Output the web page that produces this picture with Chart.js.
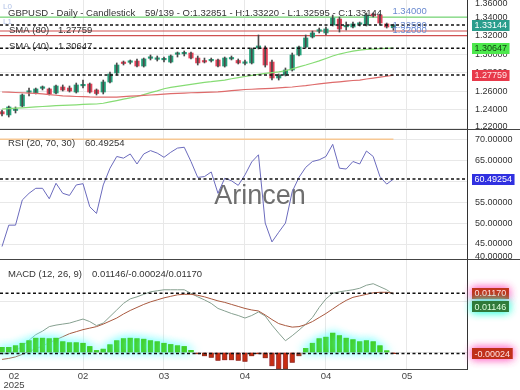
<!DOCTYPE html>
<html lang="en">
<head>
<meta charset="UTF-8">
<title>GBPUSD Daily</title>
<script src="https://cdn.jsdelivr.net/npm/chart.js@4"></script>
<style>
  html, body { margin: 0; padding: 0; background: #fff; }
  #wrap { position: relative; width: 520px; height: 390px; overflow: hidden; }
  canvas { position: absolute; left: 0; }
</style>
</head>
<body>
<div id="wrap">
  <canvas id="price" width="520" height="130" style="top:0"></canvas>
  <canvas id="rsi" width="520" height="130" style="top:130px"></canvas>
  <canvas id="macd" width="520" height="130" style="top:260px"></canvas>
</div>
<script>
const FONT = '"Liberation Sans", Arial, Helvetica, sans-serif';

// ---- data ----
const OPEN = [1.2381,1.2346,1.2394,1.2442,1.2590,1.2582,1.2633,1.2626,1.2582,1.2647,
  1.2636,1.2593,1.2660,1.2679,1.2615,1.2593,1.2701,1.2798,1.2911,1.2913,
  1.2927,1.2873,1.2956,1.2945,1.2940,1.2916,1.2999,1.3004,1.3013,1.2959,
  1.2927,1.2929,1.2938,1.2873,1.2949,1.2933,1.2902,1.2906,1.3067,1.3067,
  1.2916,1.2744,1.2776,1.2830,1.2992,1.3078,1.3186,1.3248,1.3229,1.3315,
  1.3379,1.3295,1.3293,1.3322,1.3315,1.3433,1.3422,1.3326,1.32851];
const HIGH = [1.2399,1.2442,1.2432,1.2572,1.2636,1.2636,1.2658,1.2636,1.2669,1.2669,
  1.2658,1.2690,1.2722,1.2690,1.2626,1.2722,1.2809,1.2906,1.2927,1.2938,
  1.2949,1.2959,1.2992,1.2981,1.2970,1.2992,1.3024,1.3035,1.3024,1.2981,
  1.2959,1.2959,1.2949,1.2970,1.2981,1.2949,1.2938,1.3067,1.3207,1.3089,
  1.2938,1.2787,1.2852,1.3013,1.3089,1.3207,1.3250,1.3282,1.3293,1.3422,
  1.3401,1.3347,1.3347,1.3347,1.3444,1.3444,1.3433,1.3336,1.33220];
const LOW = [1.2335,1.2324,1.2367,1.2432,1.2550,1.2572,1.2615,1.2561,1.2572,1.2604,
  1.2593,1.2582,1.2636,1.2582,1.2561,1.2572,1.2690,1.2776,1.2884,1.2895,
  1.2862,1.2862,1.2938,1.2927,1.2916,1.2906,1.2970,1.2981,1.2949,1.2884,
  1.2906,1.2916,1.2862,1.2862,1.2938,1.2895,1.2884,1.2895,1.3056,1.2862,
  1.2722,1.2722,1.2766,1.2819,1.2981,1.3067,1.3175,1.3229,1.3207,1.3304,
  1.3239,1.3261,1.3282,1.3304,1.3304,1.3401,1.3315,1.3282,1.32595];
const CLOSE = [1.2357,1.2432,1.2402,1.2561,1.2595,1.2626,1.2638,1.2572,1.2658,1.2615,
  1.2604,1.2669,1.2666,1.2593,1.2577,1.2701,1.2787,1.2884,1.2900,1.2918,
  1.2873,1.2949,1.2962,1.2951,1.2945,1.2981,1.3004,1.3010,1.2959,1.2906,
  1.2916,1.2935,1.2873,1.2959,1.2954,1.2906,1.2908,1.3056,1.3089,1.2884,
  1.2744,1.2776,1.2830,1.2992,1.3078,1.3175,1.3229,1.3253,1.3272,1.3390,
  1.3272,1.3301,1.3326,1.3328,1.3422,1.3412,1.3336,1.3293,1.33144];
const SMA40 = [1.2410,1.2415,1.2419,1.2423,1.2428,1.2432,1.2437,1.2442,1.2446,1.2449,
  1.2452,1.2455,1.2459,1.2462,1.2464,1.2472,1.2486,1.2501,1.2516,1.2529,
  1.2545,1.2565,1.2586,1.2606,1.2628,1.2643,1.2654,1.2664,1.2675,1.2687,
  1.2696,1.2704,1.2714,1.2722,1.2736,1.2748,1.2760,1.2772,1.2784,1.2794,
  1.2802,1.2809,1.2822,1.2843,1.2864,1.2884,1.2906,1.2928,1.2954,1.2981,
  1.3002,1.3019,1.3033,1.3044,1.3052,1.3056,1.3060,1.3063,1.30647];
const SMA80 = [1.2593,1.2591,1.2588,1.2585,1.2582,1.2579,1.2572,1.2565,1.2558,1.2551,
  1.2548,1.2545,1.2543,1.2540,1.2539,1.2539,1.2539,1.2539,1.2544,1.2548,
  1.2552,1.2557,1.2561,1.2565,1.2570,1.2575,1.2579,1.2582,1.2585,1.2587,
  1.2589,1.2591,1.2594,1.2601,1.2607,1.2614,1.2620,1.2623,1.2626,1.2629,
  1.2633,1.2637,1.2642,1.2647,1.2655,1.2662,1.2671,1.2680,1.2689,1.2696,
  1.2703,1.2710,1.2717,1.2722,1.2733,1.2743,1.2754,1.2763,1.27759];
const RSI = [44.4,49.5,49.5,55.5,57.1,58.3,58.3,55.8,59.5,57.1,
  56.6,59.1,59.4,53.9,52.3,59.1,63.1,65.9,65.5,66.5,
  64.1,66.5,67.3,66.7,65.7,66.9,67.9,68.1,64.7,60.9,
  61.1,62.2,57.1,60.7,60.1,59.0,61.5,64.6,66.3,50.0,
  45.5,47.8,50.0,57.5,60.9,63.3,64.7,65.1,65.9,68.8,
  63.1,62.9,64.7,64.1,67.2,65.9,61.1,59.3,60.49254];
const MACD = [-0.0003,-0.0002,0.0003,0.0012,0.0024,0.0035,0.0042,0.0051,0.0054,0.0056,
  0.0058,0.0062,0.0066,0.0061,0.0053,0.0058,0.0071,0.0084,0.0097,0.0106,
  0.0110,0.0115,0.0120,0.0122,0.0124,0.0124,0.0124,0.0124,0.0117,0.0110,
  0.0104,0.0097,0.0087,0.0082,0.0077,0.0073,0.0068,0.0073,0.0080,0.0072,
  0.0054,0.0038,0.0023,0.0033,0.0044,0.0056,0.0069,0.0089,0.0106,0.0117,
  0.0120,0.0122,0.0124,0.0127,0.0133,0.0136,0.0130,0.0124,0.01146];
const SIGNAL = [-0.0014,-0.0012,-0.0009,-0.0004,0.0002,0.0007,0.0013,0.0019,0.0025,0.0031,
  0.0037,0.0041,0.0045,0.0048,0.0051,0.0056,0.0062,0.0068,0.0076,0.0083,
  0.0089,0.0095,0.0100,0.0104,0.0108,0.0111,0.0114,0.0115,0.0115,0.0113,
  0.0110,0.0106,0.0102,0.0099,0.0095,0.0091,0.0087,0.0084,0.0082,0.0074,
  0.0065,0.0057,0.0053,0.0050,0.0051,0.0055,0.0061,0.0069,0.0077,0.0086,
  0.0095,0.0103,0.0109,0.0112,0.0115,0.0118,0.0119,0.0119,0.01170];
const HIST = [0.0010,0.0010,0.0013,0.0018,0.0023,0.0028,0.0028,0.0027,0.0028,0.0021,
  0.0019,0.0019,0.0018,0.00115,0.00036,0.00063,0.0015,0.0023,0.0027,0.0028,
  0.0027,0.0026,0.0023,0.0021,0.0018,0.00155,0.0013,0.00115,0.0004,-0.0003,
  -0.0007,-0.0010,-0.0016,-0.0015,-0.0015,-0.0016,-0.0018,-0.0007,-0.0003,-0.0011,
  -0.0027,-0.0033,-0.0033,-0.0020,-0.0007,0.0008,0.0018,0.0027,0.0030,0.0038,
  0.0033,0.0028,0.0025,0.0021,0.0023,0.0021,0.0013,0.0003,-0.00024];

const PRICE_TICKS = [1.22, 1.24, 1.26, 1.28, 1.30, 1.32, 1.34, 1.36];
const RSI_TICKS = [40, 45, 50, 55, 60, 65, 70];
const MACD_TICKS = [0, 0.01];
const X_TICK_IDX = [0, 12, 24, 36, 48, 60];
const X_TICK_LABELS = ['02', '02', '03', '04', '04', '05'];
const YEAR_LABEL = '2025';
const RES_LEVELS = [1.34];
const SUP_LEVELS = [1.325, 1.32];
const RSI_OVERBOUGHT = 70;
const TOTAL_BARS = 139;

const N = CLOSE.length, LAST = N - 1;
const X_MIN = -0.3, X_MAX = 68.9;

const C = {
  up: '#26a37c', down: '#e5435a', wick: '#4a4a4a',
  sma40: '#86dc74', sma80: '#de6b6b',
  res: '#78d878', sup: '#cf4f4f', lvlText: '#6a8ad0',
  rsi: '#6b6bbd', ob: '#f7c894',
  macd: '#86a090', signal: '#a9593f',
  histUp: '#3fcf22', histDn: '#c82c12',
  grid: '#e8e8e8', axis: '#333', text: '#333'
};

Chart.defaults.font.family = FONT;

const pts = arr => arr.map((v, i) => ({ x: i, y: v }));

function xAxis() {
  return {
    type: 'linear', min: X_MIN, max: X_MAX, offset: false,
    afterBuildTicks: s => { s.ticks = X_TICK_IDX.slice(1).map(v => ({ value: v })); },
    afterFit: s => { s.height = 0; },
    ticks: { display: false },
    grid: { color: C.grid, drawTicks: false, offset: false },
    border: { display: false }
  };
}
function yAxis(min, max, ticks) {
  return {
    type: 'linear', position: 'right', min, max,
    afterBuildTicks: s => { s.ticks = ticks.map(v => ({ value: v })); },
    afterFit: s => { s.width = 53; },
    ticks: { display: false },
    grid: { color: C.grid, drawTicks: false },
    border: { color: C.axis, width: 1 }
  };
}
function options(min, max, ticks, padBottom) {
  return {
    responsive: false, animation: false, events: [], devicePixelRatio: 1,
    layout: { padding: { left: 0, right: 0, top: 0, bottom: padBottom } },
    plugins: { legend: { display: false }, tooltip: { enabled: false } },
    scales: { x: xAxis(), y: yAxis(min, max, ticks) }
  };
}

// ---- drawing helpers ----
function txt(ctx, s, x, y, color, size, align) {
  ctx.save();
  ctx.font = (size || 9.5) + 'px ' + FONT;
  ctx.fillStyle = color || C.text;
  ctx.textAlign = align || 'left';
  ctx.textBaseline = 'alphabetic';
  ctx.fillText(s, x, y);
  ctx.restore();
}
function hLine(chart, v, color, width, dash) {
  const { ctx, chartArea: a } = chart;
  const y = chart.scales.y.getPixelForValue(v);
  ctx.save();
  ctx.strokeStyle = color; ctx.lineWidth = width;
  if (dash) ctx.setLineDash(dash);
  ctx.beginPath(); ctx.moveTo(a.left, y); ctx.lineTo(a.right, y); ctx.stroke();
  ctx.restore();
}
function dashed(chart, v) { hLine(chart, v, '#111', 1.5, [3, 2.5]); }
function axisLabels(chart, ticks) {
  const { ctx, chartArea: a } = chart;
  const s = chart.scales.y;
  ctx.save();
  ctx.font = '9px ' + FONT; ctx.fillStyle = C.text; ctx.textBaseline = 'middle';
  ticks.forEach(v => {
    let y = s.getPixelForValue(v);
    y = Math.min(Math.max(y, a.top + 4), a.bottom - 3);
    ctx.fillText(v.toFixed(5), a.right + 8, y);
  });
  ctx.restore();
}
function valueBoxes(chart, boxes) {
  const { ctx, chartArea: a } = chart;
  const s = chart.scales.y;
  let prev = -Infinity;
  boxes.forEach(b => {
    let y = s.getPixelForValue(b.v);
    if (y < prev + 13.5) y = prev + 13.5;
    prev = y;
    const label = b.v.toFixed(5);
    ctx.save();
    ctx.font = '9px ' + FONT;
    const w = ctx.measureText(label).width + 5;
    if (b.glow) { ctx.shadowColor = b.glow; ctx.shadowBlur = 8; }
    ctx.fillStyle = b.bg;
    ctx.fillRect(a.right + 5, Math.round(y - 5.5), w, 11);
    if (b.glow) ctx.fillRect(a.right + 5, Math.round(y - 5.5), w, 11);
    ctx.shadowBlur = 0; ctx.shadowColor = 'transparent';
    ctx.fillStyle = b.fg; ctx.textBaseline = 'middle';
    ctx.fillText(label, a.right + 7.5, y + 0.5);
    ctx.restore();
  });
}
function bottomRule(chart, full) {
  const { ctx, chartArea: a, width } = chart;
  ctx.save();
  ctx.strokeStyle = '#444'; ctx.lineWidth = 1;
  ctx.beginPath();
  if (full) { ctx.moveTo(0, a.bottom - 0.5); ctx.lineTo(width, a.bottom - 0.5); }
  else { ctx.moveTo(a.left, a.bottom + 0.5); ctx.lineTo(a.right + 0.5, a.bottom + 0.5); }
  ctx.stroke();
  ctx.restore();
}

// shadow glow for datasets that ask for it (drawn twice to get a stronger halo)
const glowPlugin = {
  id: 'glow',
  beforeDatasetDraw(chart, args) {
    const ds = chart.data.datasets[args.index];
    if (!ds.glow) return;
    const ctx = chart.ctx;
    ctx.save();
    ctx.shadowColor = ds.glow; ctx.shadowBlur = 10;
    chart.getDatasetMeta(args.index).controller.draw();
  },
  afterDatasetDraw(chart, args) {
    if (chart.data.datasets[args.index].glow) chart.ctx.restore();
  }
};

// ---- price panel ----
const pricePanel = {
  id: 'pricePanel',
  beforeDatasetsDraw(chart) {
    RES_LEVELS.forEach(v => hLine(chart, v, C.res, 1.2));
    SUP_LEVELS.forEach(v => hLine(chart, v, C.sup, 1.2));
    txt(chart.ctx, 'L0', 3, 9, 'rgba(110,140,210,0.55)', 8);
    txt(chart.ctx, 'L1', 3, 24, 'rgba(110,140,210,0.55)', 8);
  },
  afterDatasetsDraw(chart) {
    const ctx = chart.ctx;
    const xs = chart.scales.x, ys = chart.scales.y;
    dashed(chart, CLOSE[LAST]);
    dashed(chart, SMA40[LAST]);
    dashed(chart, SMA80[LAST]);
    RES_LEVELS.concat(SUP_LEVELS).forEach(v => {
      txt(ctx, v.toFixed(5), xs.getPixelForValue(LAST) - 1, ys.getPixelForValue(v) - 3, C.lvlText, 9.5);
    });
    txt(ctx, 'GBPUSD - Daily - Candlestick', 8, 16);
    txt(ctx, N + '/' + TOTAL_BARS + ' - O:' + OPEN[LAST].toFixed(5) + ' - H:' + HIGH[LAST].toFixed(5) +
      ' - L:' + LOW[LAST].toFixed(5) + ' - C:' + CLOSE[LAST].toFixed(5), 145, 16);
    txt(ctx, 'SMA (80)', 9, 32.7);
    txt(ctx, SMA80[LAST].toFixed(5), 58, 32.7);
    txt(ctx, 'SMA (40)', 9, 49.3);
    txt(ctx, SMA40[LAST].toFixed(5), 58, 49.3);
  },
  afterDraw(chart) {
    axisLabels(chart, PRICE_TICKS);
    valueBoxes(chart, [
      { v: CLOSE[LAST], bg: '#2a9d8c', fg: '#ffffff' },
      { v: SMA40[LAST], bg: '#4de84d', fg: '#124412' },
      { v: SMA80[LAST], bg: '#e8394a', fg: '#ffe6e6' }
    ]);
    bottomRule(chart, true);
  }
};

new Chart(document.getElementById('price'), {
  type: 'bar',
  data: {
    datasets: [
      { type: 'line', data: pts(SMA80), borderColor: C.sma80, borderWidth: 1.2, pointRadius: 0 },
      { type: 'line', data: pts(SMA40), borderColor: C.sma40, borderWidth: 1.2, pointRadius: 0 },
      { type: 'bar', data: HIGH.map((h, i) => ({ x: i, y: [LOW[i], h] })), backgroundColor: C.wick,
        barThickness: 1, grouped: false },
      { type: 'bar', data: OPEN.map((o, i) => ({ x: i, y: [o, CLOSE[i]] })),
        backgroundColor: CLOSE.map((c, i) => c >= OPEN[i] ? C.up : C.down),
        barThickness: 4.5, grouped: false, minBarLength: 1.5 }
    ]
  },
  options: options(1.2184, 1.3584, PRICE_TICKS, 0),
  plugins: [pricePanel]
});

// ---- RSI panel ----
const rsiPanel = {
  id: 'rsiPanel',
  beforeDatasetsDraw(chart) {
    txt(chart.ctx, 'Arincen', 260, 73.5, 'rgba(75,75,75,0.8)', 27, 'center');
  },
  afterDatasetsDraw(chart) {
    dashed(chart, RSI[LAST]);
    txt(chart.ctx, 'RSI (20, 70, 30)', 8, 15.7);
    txt(chart.ctx, RSI[LAST].toFixed(5), 85, 15.7);
  },
  afterDraw(chart) {
    axisLabels(chart, RSI_TICKS);
    valueBoxes(chart, [{ v: RSI[LAST], bg: '#3030e0', fg: '#ffffff' }]);
    bottomRule(chart, true);
  }
};

new Chart(document.getElementById('rsi'), {
  type: 'line',
  data: {
    datasets: [
      { data: [{ x: X_MIN, y: RSI_OVERBOUGHT }, { x: LAST, y: RSI_OVERBOUGHT }], borderColor: C.ob,
        borderWidth: 1.5, pointRadius: 0 },
      { data: pts(RSI), borderColor: C.rsi, borderWidth: 1, pointRadius: 0 }
    ]
  },
  options: options(41.18, 72.22, RSI_TICKS, 0),
  plugins: [rsiPanel]
});

// ---- MACD panel ----
const macdPanel = {
  id: 'macdPanel',
  afterDatasetsDraw(chart) {
    dashed(chart, SIGNAL[LAST]);
    dashed(chart, HIST[LAST]);
    txt(chart.ctx, 'MACD (12, 26, 9)', 8, 17);
    txt(chart.ctx, MACD[LAST].toFixed(5) + '/' + HIST[LAST].toFixed(5) + '/' + SIGNAL[LAST].toFixed(5), 92, 17);
  },
  afterDraw(chart) {
    const { ctx, chartArea: a } = chart;
    valueBoxes(chart, [
      { v: SIGNAL[LAST], bg: '#c0341c', fg: '#ffe0e0', glow: 'rgba(255,110,200,0.9)' },
      { v: MACD[LAST], bg: '#2f7a3a', fg: '#e0ffe0', glow: 'rgba(60,255,220,0.9)' }
    ]);
    valueBoxes(chart, [{ v: HIST[LAST], bg: '#c0301a', fg: '#ffe0e0', glow: 'rgba(255,110,200,0.9)' }]);
    bottomRule(chart, false);
    const xs = chart.scales.x;
    X_TICK_IDX.forEach((v, i) => {
      const x = Math.max(xs.getPixelForValue(v), 14);
      txt(ctx, X_TICK_LABELS[i], x, a.bottom + 10, '#444', 9.5, 'center');
      if (i === 0) txt(ctx, YEAR_LABEL, x, a.bottom + 18.5, '#444', 9.5, 'center');
    });
  }
};

new Chart(document.getElementById('macd'), {
  type: 'bar',
  data: {
    datasets: [
      { type: 'bar', data: HIST.map((v, i) => ({ x: i, y: v >= 0 ? v : null })), backgroundColor: C.histUp,
        barThickness: 4.5, grouped: false, glow: 'rgba(110,255,250,1)' },
      { type: 'bar', data: HIST.map((v, i) => ({ x: i, y: v < 0 ? v : null })), backgroundColor: C.histDn,
        borderColor: '#8a2a10', borderWidth: 1, barThickness: 4.5, grouped: false, glow: 'rgba(255,150,215,1)' },
      { type: 'line', data: pts(SIGNAL), borderColor: C.signal, borderWidth: 1, pointRadius: 0 },
      { type: 'line', data: pts(MACD), borderColor: C.macd, borderWidth: 1, pointRadius: 0 }
    ]
  },
  options: options(-0.0033, 0.0183, MACD_TICKS, 21),
  plugins: [glowPlugin, macdPanel]
});
</script>
</body>
</html>
